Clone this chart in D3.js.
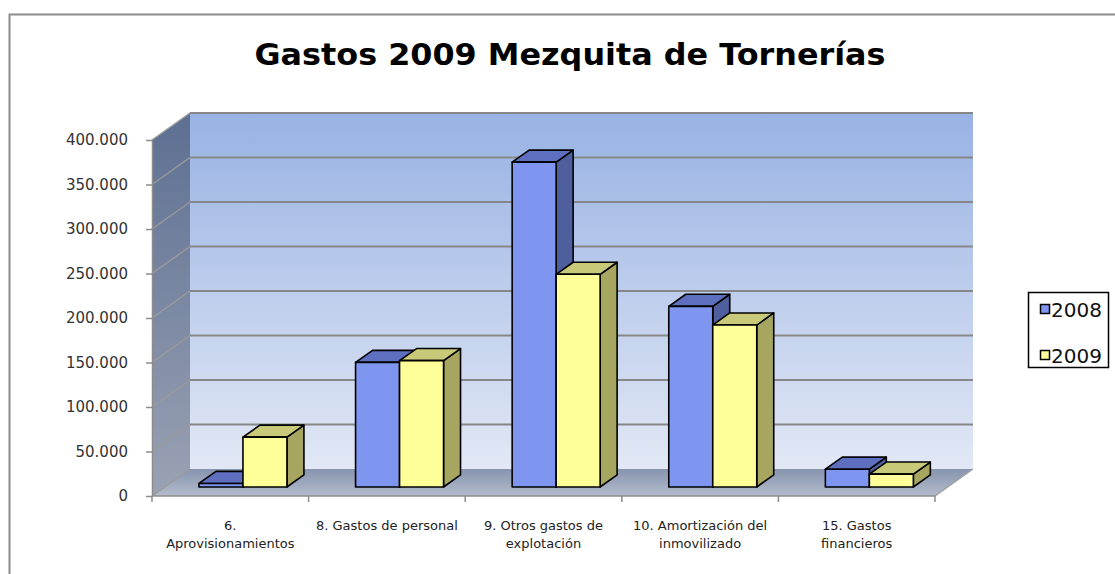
<!DOCTYPE html>
<html>
<head>
<meta charset="utf-8">
<script src="https://cdn.jsdelivr.net/npm/d3@7"></script>
<style>
  body { margin: 0; background: #fff; }
  svg { display: block; }
</style>
</head>
<body>
<div id="chart"></div>
<script>
// data
const categories = [
  ["6.", "Aprovisionamientos"],
  ["8. Gastos de personal"],
  ["9. Otros gastos de", "explotación"],
  ["10. Amortización del", "inmovilizado"],
  ["15. Gastos", "financieros"]
]
const series = ["2008", "2009"]
const values2008 = [4000, 140000, 365000, 203000, 20000]
const values2009 = [56000, 142000, 239000, 182000, 14500]
const yTicks = [0, 50000, 100000, 150000, 200000, 250000, 300000, 350000, 400000]

const width = 1115, height = 574
// front plane of the 3d box and its depth offset
const front = { left: 152, right: 935, top: 140, bottom: 496 }
const depth = { dx: 38, dy: -27 }
const barDepth = [0.333, 0.78]   // bars sit between these fractions of the depth

const colors = {
  "2008": { front: "#7f96f0", top: "#5e6fc0", side: "#4f5e9c" },
  "2009": { front: "#ffff99", top: "#c9c97a", side: "#a6a660" }
}

const svg = d3.select("#chart").append("svg")
  .attr("width", width)
  .attr("height", height)

const defs = svg.append("defs")
function vGrad(id, stops) {
  const g = defs.append("linearGradient").attr("id", id)
    .attr("x1", 0).attr("y1", 0).attr("x2", 0).attr("y2", 1)
  stops.forEach(s => g.append("stop").attr("offset", s[0]).attr("stop-color", s[1]))
}
vGrad("wallGrad", [[0, "#98b2e3"], [1, "#e2e8f5"]])
vGrad("sideGrad", [[0, "#5d6f92"], [1, "#9aa2b4"]])
vGrad("floorGrad", [[0, "#8694ae"], [1, "#b4bccc"]])

// frame
svg.append("path")
  .attr("d", `M9.5,${height} V14.5 H${width}`)
  .attr("fill", "none")
  .attr("stroke", "#8c8c8c")
  .attr("stroke-width", 2)

// title
svg.append("text")
  .attr("x", 570)
  .attr("y", 65)
  .attr("text-anchor", "middle")
  .attr("font-family", "DejaVu Sans, Verdana, sans-serif")
  .attr("font-weight", "bold")
  .attr("font-size", 30)
  .attr("textLength", 631)
  .attr("lengthAdjust", "spacingAndGlyphs")
  .text("Gastos 2009 Mezquita de Tornerías")

// scales
const y = d3.scaleLinear().domain([0, 400000]).range([front.bottom, front.top])
const x0 = d3.scaleBand().domain(d3.range(categories.length)).range([front.left, front.right])
const x1 = d3.scaleBand().domain(series).range([0, x0.bandwidth()]).paddingInner(0).paddingOuter(0.78)

const pt = (x, yy, t) => [x + depth.dx * t, yy + depth.dy * t]
const poly = pts => "M" + pts.map(p => p.join(",")).join("L") + "Z"

// walls
const bx = front.left, ex = front.right
const y0 = y(0), yTop = y(400000)
svg.append("path")
  .attr("d", poly([pt(bx, yTop, 1), pt(ex, yTop, 1), pt(ex, y0, 1), pt(bx, y0, 1)]))
  .attr("fill", "url(#wallGrad)")
svg.append("path")
  .attr("d", poly([pt(bx, yTop, 0), pt(bx, yTop, 1), pt(bx, y0, 1), pt(bx, y0, 0)]))
  .attr("fill", "url(#sideGrad)")
svg.append("path")
  .attr("d", poly([pt(bx, y0, 0), pt(bx, y0, 1), pt(ex, y0, 1), pt(ex, y0, 0)]))
  .attr("fill", "url(#floorGrad)")

// gridlines on back wall and side wall
const grid = svg.append("g")
yTicks.forEach(v => {
  const a = pt(bx, y(v), 0), b = pt(bx, y(v), 1), c = pt(ex, y(v), 1)
  grid.append("line")
    .attr("x1", a[0]).attr("y1", a[1]).attr("x2", b[0]).attr("y2", b[1])
    .attr("stroke", "#9a9a9a").attr("stroke-width", 1.5)
  if (v > 0) {
    grid.append("line")
      .attr("x1", b[0]).attr("y1", b[1]).attr("x2", c[0]).attr("y2", c[1])
      .attr("stroke", "#878787").attr("stroke-width", 2)
  }
})
// right edge of the floor
{
  const a = pt(ex, y0, 0), b = pt(ex, y0, 1)
  svg.append("line").attr("x1", a[0]).attr("y1", a[1]).attr("x2", b[0]).attr("y2", b[1])
    .attr("stroke", "#a0a0a0").attr("stroke-width", 1.5)
}

// y axis
const fmt = d3.formatLocale({ decimal: ",", thousands: ".", grouping: [3], currency: ["", ""] }).format(",")
const yAxis = svg.append("g")
  .attr("transform", `translate(${front.left},0)`)
  .call(d3.axisLeft(y).tickValues(yTicks).tickFormat(fmt).tickSizeInner(6).tickSizeOuter(0).tickPadding(18))
yAxis.select(".domain").attr("stroke", "#8c8c8c").attr("stroke-width", 1.5)
yAxis.selectAll(".tick line").attr("stroke", "#8c8c8c").attr("stroke-width", 1.5)
yAxis.selectAll(".tick text")
  .attr("font-family", "DejaVu Sans, Verdana, sans-serif")
  .attr("font-size", 15)
  .attr("fill", "#333")

// x axis along the front edge of the floor
const xAxis = svg.append("g")
xAxis.append("line")
  .attr("x1", front.left).attr("x2", front.right).attr("y1", y0).attr("y2", y0)
  .attr("stroke", "#8c8c8c").attr("stroke-width", 1.5)
const bounds = x0.domain().map(i => x0(i)).concat([front.right])
xAxis.selectAll("line.tick").data(bounds).join("line").attr("class", "tick")
  .attr("x1", d => d).attr("x2", d => d).attr("y1", y0).attr("y2", y0 + 6)
  .attr("stroke", "#8c8c8c").attr("stroke-width", 1.5)
const labels = xAxis.selectAll("text").data(categories).join("text")
  .attr("text-anchor", "middle")
  .attr("font-family", "DejaVu Sans, Verdana, sans-serif")
  .attr("font-size", 13)
  .attr("fill", "#222")
labels.selectAll("tspan").data((d, i) => d.map(s => ({ s, i }))).join("tspan")
  .attr("x", d => x0(d.i) + x0.bandwidth() / 2)
  .attr("y", (d, j) => 530 + j * 18)
  .text(d => d.s)

// bars
const bars = svg.append("g")
const dt = barDepth[1] - barDepth[0]
categories.forEach((c, i) => {
  series.forEach((s, k) => {
    const v = (k === 0 ? values2008 : values2009)[i]
    const [fx, fy0] = pt(x0(i) + x1(s), y(0), barDepth[0])
    const fyt = pt(0, y(v), barDepth[0])[1]
    const w = x1.bandwidth()
    const ddx = depth.dx * dt, ddy = depth.dy * dt
    const g = bars.append("g")
      .attr("stroke", "#000").attr("stroke-width", 1.6).attr("stroke-linejoin", "round")
    g.append("path")
      .attr("d", poly([[fx + w, fyt], [fx + w + ddx, fyt + ddy], [fx + w + ddx, fy0 + ddy], [fx + w, fy0]]))
      .attr("fill", colors[s].side)
    g.append("path")
      .attr("d", poly([[fx, fyt], [fx + ddx, fyt + ddy], [fx + w + ddx, fyt + ddy], [fx + w, fyt]]))
      .attr("fill", colors[s].top)
    g.append("rect")
      .attr("x", fx).attr("y", fyt).attr("width", w).attr("height", fy0 - fyt)
      .attr("fill", colors[s].front)
  })
})

// legend
const legend = svg.append("g")
legend.append("rect")
  .attr("x", 1028.5).attr("y", 292.5).attr("width", 80).attr("height", 75)
  .attr("fill", "#fff").attr("stroke", "#000").attr("stroke-width", 1.5)
series.forEach((s, k) => {
  const ly = 304 + k * 46
  legend.append("rect")
    .attr("x", 1040.5).attr("y", ly + 0.5).attr("width", 9).attr("height", 9)
    .attr("fill", colors[s].front).attr("stroke", "#000").attr("stroke-width", 1.5)
  legend.append("text")
    .attr("x", 1051).attr("y", ly + 13)
    .attr("font-family", "DejaVu Sans, Verdana, sans-serif")
    .attr("font-size", 20)
    .attr("fill", "#111")
    .text(s)
})
</script>
</body>
</html>
